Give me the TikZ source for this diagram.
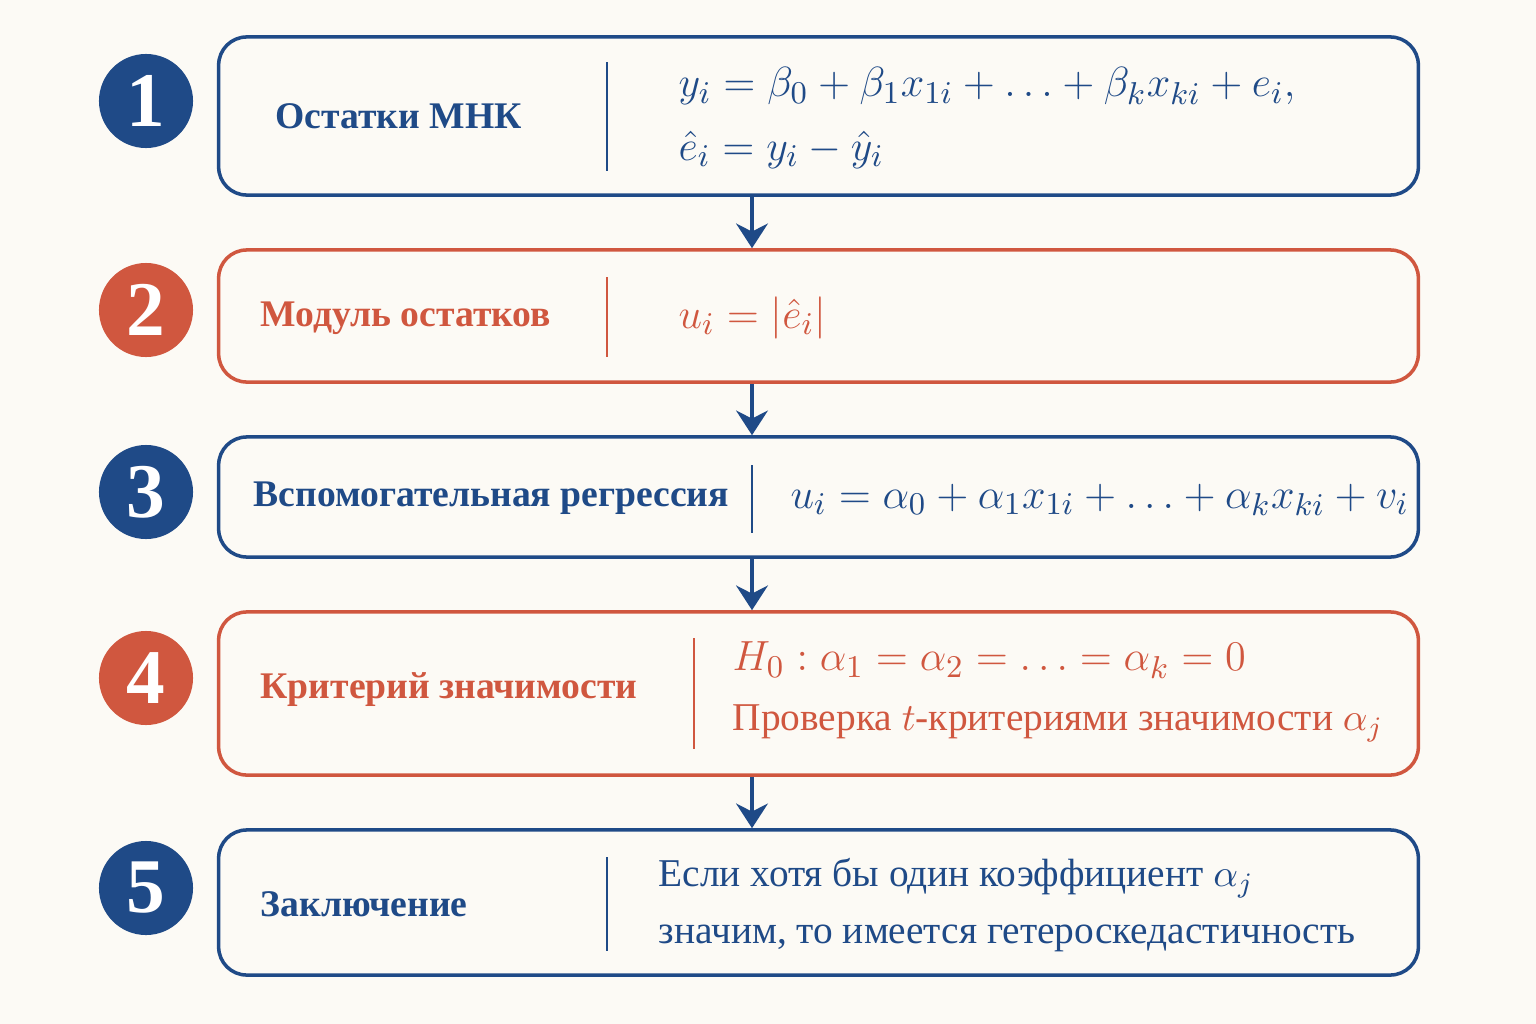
\documentclass[tikz,border=0pt]{standalone}
\usepackage{fontspec}
\setmainfont{Liberation Serif}
\usetikzlibrary{arrows.meta}
\definecolor{navy}{HTML}{1F4A87}
\definecolor{rust}{HTML}{D0573F}
\definecolor{paper}{HTML}{FCFAF5}
\begin{document}
\begin{tikzpicture}[x=0.01cm,y=-0.01cm]
    \tikzset{stage/.style= {draw,
                           rectangle,
                           rounded corners=8pt,
                           line width=1pt,
                           minimum width=11.99cm},
             num/.style=   {circle,
                            inner sep=0pt,
                            minimum size=0.94cm,
                            text=white,
                            font=\fontsize{22}{22}\selectfont\bfseries},
             title/.style= {anchor=west,
                            inner sep=0pt,
                            font=\fontsize{10.7}{13}\selectfont\bfseries},
             formula/.style={anchor=west,
                            inner sep=0pt,
                            align=left,
                            font=\fontsize{12.2}{18}\selectfont},
             words/.style= {anchor=west,
                            inner sep=0pt,
                            align=left,
                            font=\fontsize{11.2}{14}\selectfont},
             sep/.style=   {line width=0.8pt},
             arr/.style=   {-{Stealth[length=7pt,width=9pt]},
                            navy, line width=1.3pt},
            }
    \fill[paper] (0,0) rectangle (1536,1024);
    \path
    (818.5,116)   node[stage,navy,minimum height=1.58cm](b1) {}
    (818.5,316)   node[stage,rust,minimum height=1.32cm](b2) {}
    (818.5,497)   node[stage,navy,minimum height=1.20cm](b3) {}
    (818.5,693.5) node[stage,rust,minimum height=1.63cm](b4) {}
    (818.5,902.5) node[stage,navy,minimum height=1.45cm](b5) {}
    (146,101) node[num,fill=navy](n1) {1}
    (146,310) node[num,fill=rust](n2) {2}
    (146,492) node[num,fill=navy](n3) {3}
    (146,678) node[num,fill=rust](n4) {4}
    (146,888) node[num,fill=navy](n5) {5}
    (275,116) node[title,navy](t1) {Остатки МНК}
    (260,318) node[title,rust](t2) {Модуль остатков}
    (253,498) node[title,navy](t3) {Вспомогательная регрессия}
    (260,690) node[title,rust](t4) {Критерий значимости}
    (260,904) node[title,navy](t5) {Заключение}
    (678,118) node[formula,navy](f1)
      {$y_i = \beta_0 + \beta_1x_{1i} + \ldots + \beta_kx_{ki} + e_i,$\\
       $\hat e_i = y_i - \hat y_i$}
    (678,318) node[formula,rust](f2) {$u_i = |\hat e_i|$}
    (790,500) node[formula,navy](f3)
      {$u_i = \alpha_0 + \alpha_1x_{1i} + \ldots + \alpha_kx_{ki} + v_i$}
    (732,692) node[words,rust,font=\fontsize{11.2}{17}\selectfont](f4)
      {{\fontsize{12.2}{14}\selectfont$H_0: \alpha_1 = \alpha_2 = \ldots = \alpha_k = 0$}\\
       Проверка $t$-критериями значимости $\alpha_j$}
    (658,905) node[words,navy,font=\fontsize{11.2}{16}\selectfont](f5)
      {Если хотя бы один коэффициент $\alpha_j$\\
       значим, то имеется гетероскедастичность}
    (752,0) coordinate (ax)
    ;
    \draw[sep,navy] (607,62)  -- (607,171);
    \draw[sep,rust] (607,277) -- (607,357);
    \draw[sep,navy] (752,465) -- (752,533);
    \draw[sep,rust] (694,638) -- (694,749);
    \draw[sep,navy] (607,857) -- (607,951);
    \draw[arr] (b1.south -| ax) -- (b2.north -| ax);
    \draw[arr] (b2.south -| ax) -- (b3.north -| ax);
    \draw[arr] (b3.south -| ax) -- (b4.north -| ax);
    \draw[arr] (b4.south -| ax) -- (b5.north -| ax);
\end{tikzpicture}
\end{document}
